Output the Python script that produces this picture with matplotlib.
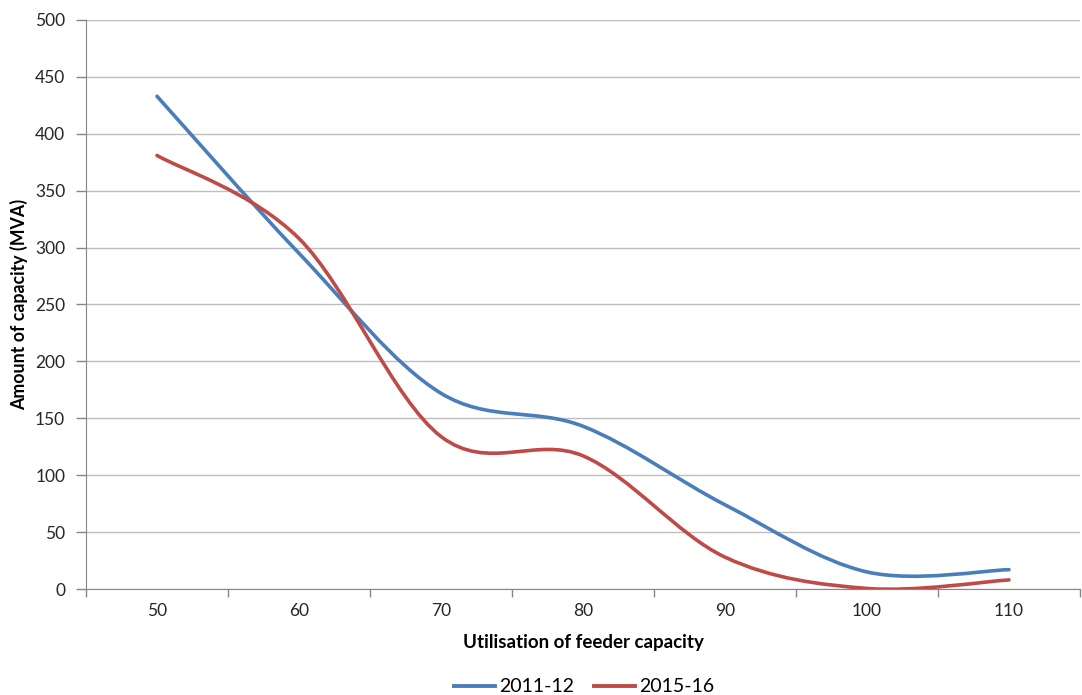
import numpy as np
import matplotlib
matplotlib.use('Agg')
import matplotlib.pyplot as plt
from matplotlib.path import Path
from matplotlib.patches import PathPatch
from matplotlib.lines import Line2D

plt.rcParams['font.family'] = ['Lato', 'DejaVu Sans']

categories = ['50', '60', '70', '80', '90', '100', '110']
serie_2011 = [433, 295, 172, 143, 74, 15, 17]
serie_2015 = [381, 308, 134, 117, 28, 0.5, 8]

cor_azul = '#4A7EBB'
cor_verm = '#BE4B48'


def caminho_suave(xs, ys):
    # curva suavizada estilo Excel (Bezier, tensao 1/6)
    pts = np.column_stack([xs, ys]).astype(float)
    n = len(pts)
    verts = [pts[0]]
    codes = [Path.MOVETO]
    for i in range(n - 1):
        p0 = pts[i - 1] if i > 0 else pts[i]
        p1 = pts[i]
        p2 = pts[i + 1]
        p3 = pts[i + 2] if i + 2 < n else pts[i + 1]
        c1 = p1 + (p2 - p0) / 6
        c2 = p2 - (p3 - p1) / 6
        verts += [c1, c2, p2]
        codes += [Path.CURVE4] * 3
    return Path(verts, codes)


fig = plt.figure(figsize=(10.82, 6.95), dpi=100)
ax = fig.add_axes([86 / 1082, 1 - 589 / 695, (1080 - 86) / 1082, (589 - 20) / 695])

x = np.arange(len(categories))
for serie, cor in [(serie_2011, cor_azul), (serie_2015, cor_verm)]:
    patch = PathPatch(caminho_suave(x, serie), fill=False, edgecolor=cor,
                      linewidth=2.6, capstyle='round', joinstyle='round', zorder=3)
    ax.add_patch(patch)

ax.set_xlim(-0.5, len(categories) - 0.5)
ax.set_ylim(0, 500)
ax.set_yticks(range(0, 501, 50))
ax.set_xticks(x)
ax.set_xticklabels(categories)
ax.set_xticks(np.arange(-0.5, len(categories) + 0.5, 1), minor=True)
ax.tick_params(axis='x', which='major', length=0, pad=10, labelsize=12.5, colors='#262626')
ax.tick_params(axis='x', which='minor', length=6, color='#868686', width=1)
ax.tick_params(axis='y', length=7, color='#868686', width=1, labelsize=12.5,
               labelcolor='#262626', pad=8)

ax.grid(axis='y', color='#BEBEBE', linewidth=1)
ax.set_axisbelow(True)
for lado in ['top', 'right']:
    ax.spines[lado].set_visible(False)
ax.spines['left'].set_color('#868686')
ax.spines['bottom'].set_color('#868686')

ax.set_xlabel('Utilisation of feeder capacity', fontsize=13.5, fontweight='bold', labelpad=11)
ax.set_ylabel('Amount of capacity (MVA)', fontsize=12.8, fontweight='bold', labelpad=5)

handles = [Line2D([], [], color=cor_azul, linewidth=2.8),
           Line2D([], [], color=cor_verm, linewidth=2.8)]
fig.legend(handles, ['2011-12', '2015-16'], loc='center', bbox_to_anchor=(584 / 1082, 1 - 687 / 695),
           ncol=2, frameon=False, fontsize=14, handlelength=2.15, columnspacing=1.0,
           handletextpad=0.2, borderaxespad=0)

plt.savefig('out.png', dpi=100)
